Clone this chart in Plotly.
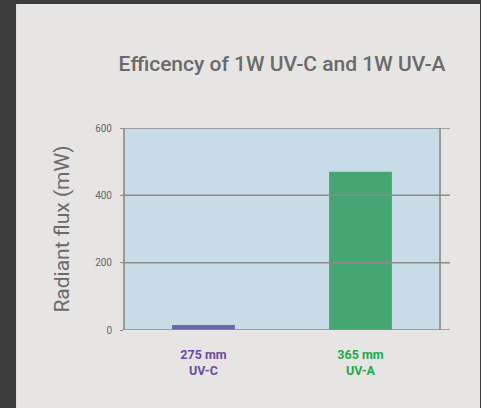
import plotly.graph_objects as go

# data
categories = ['275 mm<br>UV-C', '365 mm<br>UV-A']
radiant_flux = [15, 470]
bar_colors = ['#6a67b1', '#45a673']
label_colors = ['#6b4aa0', '#22aa4a']
y_ticks = [0, 200, 400, 600]

tick_text = ['<b><span style="color:%s">%s</span></b>' % (c, t) for t, c in zip(categories, label_colors)]

fig = go.Figure()
fig.add_trace(go.Bar(x=categories, y=radiant_flux, marker=dict(color=bar_colors, line=dict(width=0)),
                     width=0.4, showlegend=False))

# dark frame round the light panel (left, top, right strips)
dark = '#3c3c3c'
fig.add_shape(type='rect', xref='paper', yref='paper', x0=-0.5, x1=-0.347, y0=-0.5, y1=1.8,
              fillcolor=dark, line=dict(width=0), layer='below')
fig.add_shape(type='rect', xref='paper', yref='paper', x0=-0.5, x1=1.3, y0=1.614, y1=1.8,
              fillcolor=dark, line=dict(width=0), layer='below')
fig.add_shape(type='rect', xref='paper', yref='paper', x0=1.1306, x1=1.3, y0=-0.5, y1=1.8,
              fillcolor=dark, line=dict(width=0), layer='below')

# gridlines that run past the plot area
for v in y_ticks:
    fig.add_shape(type='line', xref='paper', yref='y', x0=-0.008, x1=1.035, y0=v, y1=v,
                  line=dict(color='#8c8c8c', width=1.5), layer='above')

fig.update_layout(
    width=481, height=408,
    margin=dict(l=125, r=42, t=128, b=78),
    paper_bgcolor='#e6e5e3',
    plot_bgcolor='#c8dce8',
    font=dict(family='Roboto', color='#666666'),
    title=dict(text='Efficency of 1W UV-C and 1W UV-A', x=0.5, xref='paper', y=0.843, yanchor='middle',
               font=dict(size=21, color='#6a6a6a', weight=500)),
    bargap=0.6,
)
fig.update_xaxes(tickvals=categories, ticktext=tick_text, tickfont=dict(size=12.5),
                 ticks='outside', ticklen=13, tickcolor='rgba(0,0,0,0)', showline=False)
fig.update_yaxes(range=[0, 600], tickvals=y_ticks, showgrid=False, zeroline=False,
                 showline=True, mirror=True, linecolor='#9a9a9a', linewidth=2,
                 ticks='outside', ticklen=3, tickcolor='#8c8c8c', tickfont=dict(size=10, color='#666666'),
                 ticklabelstandoff=6,
                 title=dict(text='Radiant flux (mW)', font=dict(size=21, color='#6a6a6a'), standoff=20))

fig.write_html('out.html', config={'displayModeBar': False},
               post_script="document.body.style.margin='0';")
